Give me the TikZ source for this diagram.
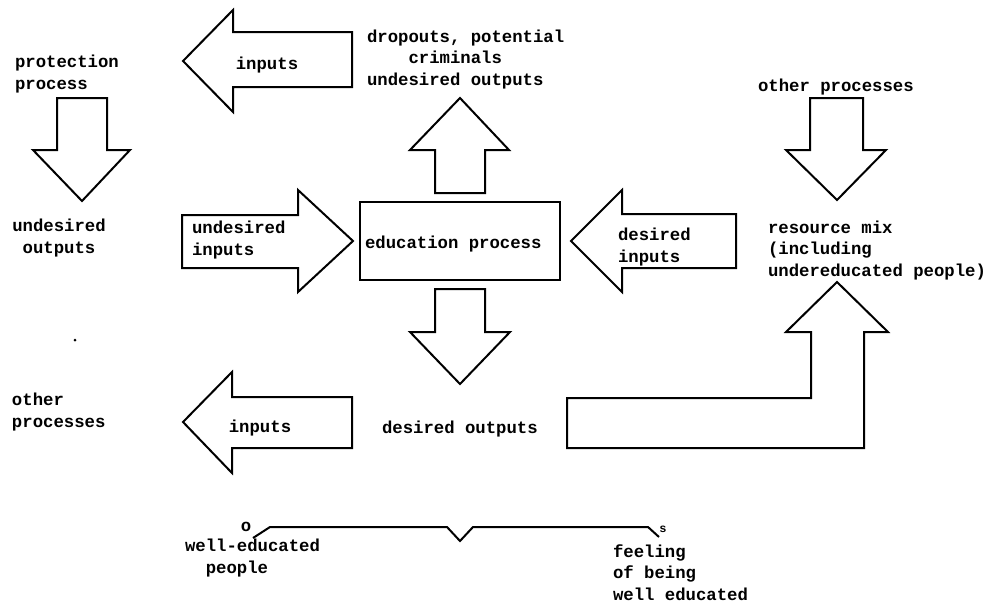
\documentclass[tikz,border=0pt]{standalone}
\usepackage{fontspec}
\setmonofont{Liberation Mono}
\begin{document}
\begin{tikzpicture}[x=1pt,y=-1pt,
  lbl/.style={font=\ttfamily\bfseries\fontsize{17.3}{21.5}\selectfont, inner sep=0pt, outer sep=0pt},
  blockarrow/.style={draw=black, line width=2pt, line join=miter, fill=white},
  procbox/.style={draw=black, line width=2pt, inner sep=0pt, minimum width=200pt, minimum height=78pt},
  bracket/.style={draw=black, line width=2pt, line join=miter}]
\useasboundingbox (0,0) rectangle (990,608);

% central process
\node[procbox] (edu) at (460,241) {};
\node[lbl, anchor=base west] (edutext) at (365,248) {education process};

% block arrows
\draw[blockarrow] (352,32) -- (233,32) -- (233,10) -- (183,61) -- (233,112) -- (233,87) -- (352,87) -- cycle;
\draw[blockarrow] (57,98) -- (107,98) -- (107,150) -- (130,150) -- (82,201) -- (33,150) -- (57,150) -- cycle;
\draw[blockarrow] (182,215) -- (298,215) -- (298,190) -- (353,241) -- (298,292) -- (298,268) -- (182,268) -- cycle;
\draw[blockarrow] (435,193) -- (435,150) -- (410,150) -- (460,98) -- (509,150) -- (485,150) -- (485,193) -- cycle;
\draw[blockarrow] (736,214) -- (622,214) -- (622,190) -- (571,241) -- (622,292) -- (622,268) -- (736,268) -- cycle;
\draw[blockarrow] (810,98) -- (863,98) -- (863,150) -- (886,150) -- (837,200) -- (786,150) -- (810,150) -- cycle;
\draw[blockarrow] (435,289) -- (485,289) -- (485,332) -- (510,332) -- (460,384) -- (410,332) -- (435,332) -- cycle;
\draw[blockarrow] (352,397) -- (232,397) -- (232,372) -- (183,422) -- (232,473) -- (232,448) -- (352,448) -- cycle;
\draw[blockarrow] (567,448) -- (567,398) -- (811,398) -- (811,332) -- (786,332) -- (837,282) -- (888,332) -- (864,332) -- (864,448) -- cycle;

% labels (multi-line labels are placed by the baseline of their last line)
\node[lbl, anchor=base west, align=left] (prot) at (15,89) {protection\\process};
\node[lbl, anchor=base] (inputsA) at (267,69) {inputs};
\node[lbl, anchor=base west, align=left] (drop) at (367,85) {dropouts, potential\\\phantom{drop}criminals\\undesired outputs};
\node[lbl, anchor=base, align=center] (undout) at (59,253) {undesired\\outputs};
\node[lbl, anchor=base west, align=left] (undin) at (192,255) {undesired\\inputs};
\node[lbl, anchor=base west, align=left] (desin) at (618,262) {desired\\inputs};
\node[lbl, anchor=base west] (otherR) at (758,91) {other processes};
\node[lbl, anchor=base west, align=left] (mix) at (768,276) {resource mix\\(including\\undereducated people)};
\node[lbl, anchor=base west, align=left] (otherL) at (12,427) {other\\processes};
\node[lbl, anchor=base] (inputsB) at (260,432) {inputs};
\node[lbl, anchor=base west] (desout) at (382,433) {desired outputs};

% bracket grouping the desired outputs
\node[lbl, anchor=base] (omark) at (246,531) {o};
\node[lbl, anchor=base, font=\ttfamily\bfseries\fontsize{12}{14}\selectfont] (smark) at (663,532) {s};
\node[lbl, anchor=base west, align=left] (welled) at (185,573) {well-educated\\\phantom{we}people};
\node[lbl, anchor=base west, align=left] (feel) at (613,600) {feeling\\of being\\well educated};
\draw[bracket] (253,538) -- (270,527) -- (447,527) -- (460,541) -- (473,527) -- (648,527) -- (659,537);

% stray mark
\fill (75,340) circle (1.5pt);
\end{tikzpicture}
\end{document}
